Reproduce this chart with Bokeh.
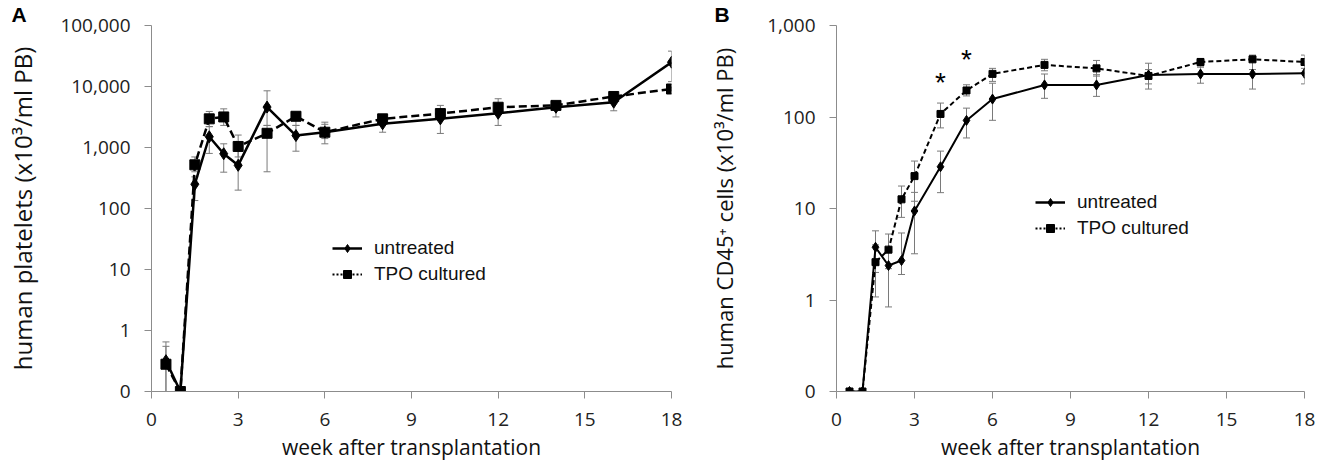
from bokeh.plotting import figure
from bokeh.models import ColumnDataSource, Whisker, TeeHead, FixedTicker, Legend, LegendItem
from bokeh.layouts import row
from bokeh.embed import file_html
from bokeh.resources import INLINE
from bokeh.core.properties import value

# ---------------- data ----------------
weeks = [0.5, 1, 1.5, 2, 2.5, 3, 4, 5, 6, 8, 10, 12, 14, 16, 18]

# Panel A: human platelets (x10^3/ml PB)
plt_untreated = [0.32, 0.1, 250, 1500, 790, 510, 4600, 1570, 1780, 2450, 2950, 3640, 4570, 5530, 25000]
plt_untreated_lo = [0.1, 0.1, 135, 800, 394, 200, 2300, 870, 1150, 1780, 1700, 2300, 3170, 4000, 12000]
plt_untreated_hi = [0.65, 0.1, 330, 2200, 1150, 900, 8500, 2300, 2600, 3000, 3800, 5000, 5600, 7000, 38000]
plt_tpo = [0.28, 0.1, 520, 2950, 3170, 1040, 1710, 3250, 1780, 2950, 3600, 4570, 4900, 6860, 9100]
plt_tpo_lo = [0.1, 0.1, 400, 2200, 2300, 700, 400, 2300, 1400, 2400, 2900, 3500, 4300, 5500, 8500]
plt_tpo_hi = [0.55, 0.1, 700, 3900, 4300, 1600, 2300, 3800, 2400, 3350, 4900, 6300, 5600, 7800, 9800]

# Panel B: human CD45+ cells (x10^3/ml PB)
cd45_untreated = [0.1, 0.1, 3.77, 2.38, 2.7, 9.4, 28.6, 91.8, 157, 224, 224, 288, 295, 295, 300]
cd45_untreated_lo = [0.1, 0.1, 2.0, 0.84, 1.9, 3.2, 14.9, 59, 92, 160, 168, 230, 234, 202, 230]
cd45_untreated_hi = [0.1, 0.1, 5.7, 3.4, 5.4, 15, 42.4, 125, 234, 295, 290, 387, 360, 400, 380]
cd45_tpo = [0.1, 0.1, 2.59, 3.55, 12.6, 22.6, 108, 195, 296, 371, 340, 281, 399, 427, 399]
cd45_tpo_lo = [0.1, 0.1, 1.08, 2.2, 8.0, 12, 76, 170, 245, 320, 280, 202, 350, 330, 340]
cd45_tpo_hi = [0.1, 0.1, 4.0, 5.26, 17.6, 33, 142, 225, 340, 427, 415, 330, 437, 475, 475]

# significance markers (panel B)
star_weeks = [4, 5]
star_values = [240, 420]

x_ticks = [0, 3, 6, 9, 12, 15, 18]
y_ticks_a = [0.1, 1, 10, 100, 1000, 10000, 100000]
y_labels_a = ["0", "1", "10", "100", "1,000", "10,000", "100,000"]
y_ticks_b = [0.1, 1, 10, 100, 1000]
y_labels_b = ["0", "1", "10", "100", "1,000"]

series_names = ["untreated", "TPO cultured"]

TICK_FONT = "Open Sans"
LEGEND_FONT = "Liberation Sans"
AXIS_GREY = "#8c8c8c"
ERR_GREY = "#7a7a7a"
FIG_H = 463


def make_panel(width, borders, y_ticks, y_labels, y_title, y_title_size, y_title_standoff,
               u, u_lo, u_hi, t, t_lo, t_hi,
               line_w, u_size, t_size, dash, legend_xy, panel_letter, letter_offset):
    left, right, top, bottom = borders
    p = figure(width=width, height=FIG_H, y_axis_type="log",
               x_range=(0, 18), y_range=(y_ticks[0], y_ticks[-1]),
               output_backend="svg", toolbar_location=None,
               min_border_left=left, min_border_right=right,
               min_border_top=top, min_border_bottom=bottom)
    p.outline_line_color = None
    p.xgrid.visible = False
    p.ygrid.visible = False

    # panel letter as the plot title, pushed to the far left
    p.title.text = panel_letter
    p.title.align = "left"
    p.title.offset = letter_offset
    p.title.standoff = 0
    p.title.text_font = LEGEND_FONT
    p.title.text_font_size = "21px"
    p.title.text_font_style = "bold"
    p.title.text_color = "black"

    # axes
    p.xaxis.ticker = FixedTicker(ticks=x_ticks)
    p.yaxis.ticker = FixedTicker(ticks=y_ticks)
    p.yaxis.major_label_overrides = {tk: lb for tk, lb in zip(y_ticks, y_labels)}
    for ax in (p.xaxis[0], p.yaxis[0]):
        ax.axis_line_color = AXIS_GREY
        ax.major_tick_line_color = AXIS_GREY
        ax.minor_tick_line_color = None
        ax.major_tick_in = 0
        ax.major_tick_out = 7
        ax.major_label_text_font = TICK_FONT
        ax.major_label_text_font_size = "19px"
        ax.major_label_text_color = "#222222"
        ax.axis_label_text_font = TICK_FONT
        ax.axis_label_text_font_style = "normal"
        ax.axis_label_text_color = "#111111"
    p.yaxis.axis_label_text_font_size = y_title_size
    p.xaxis.axis_label_text_font_size = "21px"
    p.xaxis.axis_label_text_line_height = 0.8
    p.yaxis.major_label_standoff = 14
    p.xaxis.major_label_standoff = 14
    p.yaxis.axis_label_standoff = y_title_standoff
    p.xaxis.axis_label_standoff = 4
    p.xaxis.axis_label = "week after transplantation"
    p.yaxis.axis_label = y_title

    # error bars (skip points without spread)
    for lo, hi in ((u_lo, u_hi), (t_lo, t_hi)):
        xs, los, his = [], [], []
        for w, a, b in zip(weeks, lo, hi):
            if b > a:
                xs.append(w); los.append(a); his.append(b)
        src = ColumnDataSource(dict(x=xs, lower=los, upper=his))
        wk = Whisker(source=src, base="x", lower="lower", upper="upper",
                     line_color=ERR_GREY, line_width=1,
                     upper_head=TeeHead(size=7, line_color=ERR_GREY, line_width=1),
                     lower_head=TeeHead(size=7, line_color=ERR_GREY, line_width=1))
        p.add_layout(wk)

    # series
    p.line(weeks, t, line_color="black", line_width=line_w, line_dash=dash)
    p.scatter(weeks, t, marker="square", size=t_size, fill_color="black", line_color="black")
    p.line(weeks, u, line_color="black", line_width=line_w)
    p.scatter(weeks, u, marker="diamond", size=u_size, fill_color="black", line_color="black")

    # legend swatches: renderers whose only point lies outside the x range (never visible)
    off = ColumnDataSource(dict(x=[-50], y=[1]))
    lu = p.line("x", "y", source=off, line_color="black", line_width=2.5)
    mu = p.scatter("x", "y", source=off, marker="diamond", size=10, fill_color="black", line_color="black")
    lt = p.line("x", "y", source=off, line_color="black", line_width=2, line_dash="2 2")
    mt = p.scatter("x", "y", source=off, marker="square", size=7, fill_color="black", line_color="black")
    legend = Legend(items=[LegendItem(label=series_names[0], renderers=[lu, mu]),
                           LegendItem(label=series_names[1], renderers=[lt, mt])],
                    location=legend_xy, orientation="vertical",
                    border_line_alpha=0, background_fill_alpha=0,
                    padding=0, margin=0, spacing=4,
                    glyph_width=30, glyph_height=20, label_height=20,
                    label_standoff=12, label_text_font=LEGEND_FONT,
                    label_text_font_size="19px", label_text_color="#111111")
    p.add_layout(legend)
    return p


pA = make_panel(698, (151, 27, 25, 72), y_ticks_a, y_labels_a,
                "human platelets (x10\u00b3/ml PB)", "24px", 18,
                plt_untreated, plt_untreated_lo, plt_untreated_hi,
                plt_tpo, plt_tpo_lo, plt_tpo_hi,
                2.5, 12, 10, "8 4", (181, 106), "A", -140)

pB = make_panel(620, (138, 14, 22, 72), y_ticks_b, y_labels_b,
                "human CD45\u207a cells (x10\u00b3/ml PB)", "22px", 25,
                cd45_untreated, cd45_untreated_lo, cd45_untreated_hi,
                cd45_tpo, cd45_tpo_lo, cd45_tpo_hi,
                2, 10, 7, "5 3", (199, 152), "B", -122)

pB.text(star_weeks, star_values, text=["*", "*"], text_font=value(LEGEND_FONT),
        text_font_size="28px", text_align="center", text_baseline="middle", text_color="black")

layout = row(pA, pB, spacing=0)
open("out.html", "w").write(file_html(layout, INLINE))
